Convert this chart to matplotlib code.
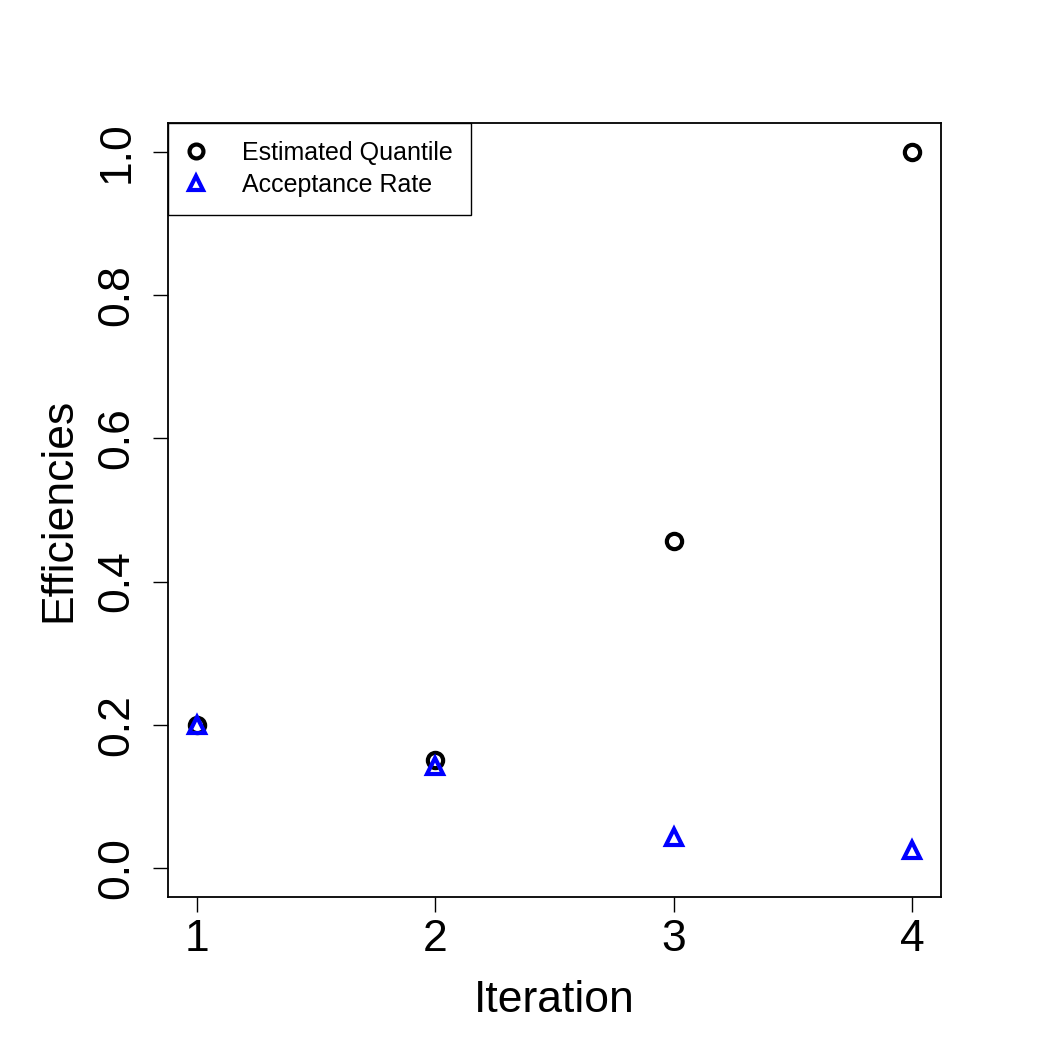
import numpy as np
import matplotlib.pyplot as plt

plt.rcParams['font.family'] = ['Liberation Sans', 'DejaVu Sans']

# values
iteration = [1, 2, 3, 4]
est_quantile = [0.200, 0.151, 0.456, 1.000]
accept_rate = [0.200, 0.142, 0.043, 0.025]
yticks = [0.0, 0.2, 0.4, 0.6, 0.8, 1.0]
ytick_labels = ['0.0', '0.2', '0.4', '0.6', '0.8', '1.0']

fig = plt.figure(figsize=(10.5, 10.5), dpi=100)
ax = fig.add_axes([0.16, 0.1457, 0.736, 0.7372])

ax.plot(iteration, est_quantile, linestyle='none', marker='o', ms=11,
        mfc='none', mec='black', mew=3, label='Estimated Quantile')
ax.plot(iteration, accept_rate, linestyle='none', marker='^', ms=12,
        mfc='none', mec='blue', mew=3, label='Acceptance Rate')

ax.set_xlim(0.88, 4.12)
ax.set_ylim(-0.0405, 1.0405)
ax.set_xticks(iteration)
ax.set_xticklabels([str(i) for i in iteration])
ax.set_yticks(yticks)
ax.set_yticklabels(ytick_labels, rotation=90, va='center')

for s in ax.spines.values():
    s.set_linewidth(1.3)
ax.tick_params(axis='both', direction='out', length=11, width=1.0,
               labelsize=32)
ax.tick_params(axis='x', pad=5)
ax.tick_params(axis='y', pad=11)

ax.set_xlabel('Iteration', fontsize=32, labelpad=14)
ax.set_ylabel('Efficiencies', fontsize=32, labelpad=12)

leg = ax.legend(loc='upper left', bbox_to_anchor=(0, 1), borderaxespad=0,
                fontsize=18, fancybox=False, framealpha=1, edgecolor='black',
                handlelength=0.8, handletextpad=1.45, borderpad=0.72,
                labelspacing=0.32, numpoints=1)
leg.get_frame().set_linewidth(1.0)
for h in leg.legend_handles:
    h.set_markersize(10)

fig.savefig('out.png', dpi=100)
